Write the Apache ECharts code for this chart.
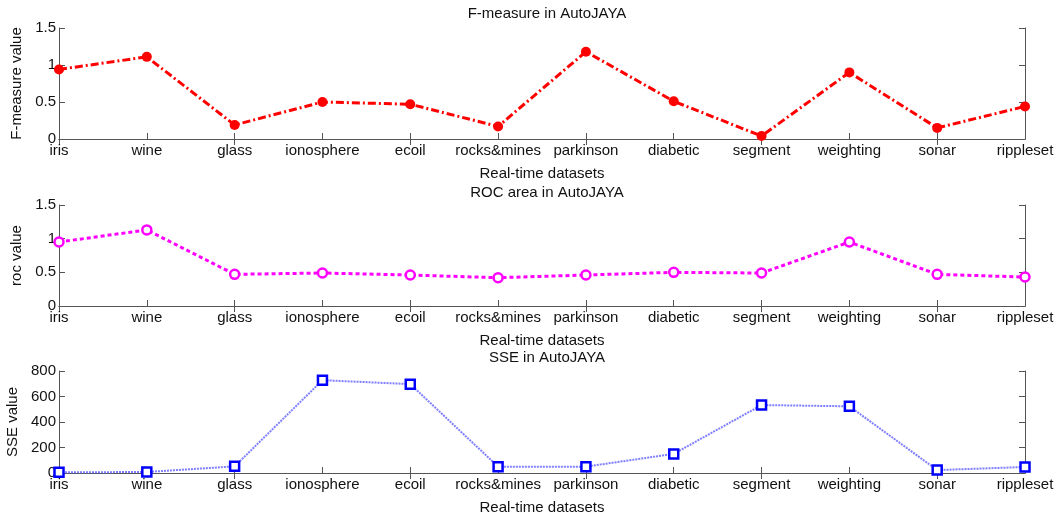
<!DOCTYPE html>
<html>
<head>
<meta charset="utf-8">
<script src="https://cdn.jsdelivr.net/npm/echarts@6/dist/echarts.min.js"></script>
<style>
  html, body { margin: 0; padding: 0; background: #fff; }
  #main { width: 1058px; height: 514px; }
</style>
</head>
<body>
<div id="main"></div>
<script>
// datasets and values
const datasets = ['iris', 'wine', 'glass', 'ionosphere', 'ecoil', 'rocks&mines',
    'parkinson', 'diabetic', 'segment', 'weighting', 'sonar', 'rippleset'];
const fMeasure = [0.94, 1.11, 0.19, 0.50, 0.47, 0.17, 1.18, 0.51, 0.04, 0.90, 0.15, 0.44];
const rocArea  = [0.95, 1.13, 0.47, 0.49, 0.46, 0.42, 0.46, 0.50, 0.49, 0.95, 0.47, 0.43];
const sseVals  = [5, 8, 52, 728, 697, 50, 50, 150, 533, 523, 23, 47];

const titles = ['F-measure in AutoJAYA', 'ROC area in AutoJAYA', 'SSE in AutoJAYA'];
const yNames = ['F-measure value', 'roc value', 'SSE value'];
const yMax = [1.5, 1.5, 800];
const yStep = [0.5, 0.5, 200];

const FONT = 'Liberation Sans, Arial, sans-serif';
const FS = 15;
const AX = '#555';
const grids = [
    {left: 59, right: 33, top: 28, height: 111, outerBoundsMode: 'none'},
    {left: 59, right: 33, top: 205, height: 101, outerBoundsMode: 'none'},
    {left: 59, right: 33, top: 371, height: 102, outerBoundsMode: 'none'}
];
const titleTops = [1, 180, 345];

let xAxes = [], yAxes = [], titleList = [];
for (let i = 0; i < 3; i++) {
    titleList.push({
        text: titles[i], left: 542, top: titleTops[i], textAlign: 'center',
        textStyle: {fontFamily: FONT, fontSize: FS, fontWeight: 'normal', color: '#111'}
    });
    // bottom axis with labels
    xAxes.push({
        gridIndex: i, type: 'category', data: datasets, boundaryGap: false,
        name: 'Real-time datasets', nameLocation: 'middle', nameGap: 27,
        nameTextStyle: {fontFamily: FONT, fontSize: FS, color: '#111'},
        axisLine: {lineStyle: {color: AX, width: 1}},
        axisTick: {inside: true, length: 6, lineStyle: {color: AX}},
        axisLabel: {fontFamily: FONT, fontSize: FS, color: '#111', margin: 4, interval: 0},
        splitLine: {show: false}
    });
    // top box edge
    xAxes.push({
        gridIndex: i, type: 'category', data: datasets, boundaryGap: false, position: 'top',
        axisLine: {lineStyle: {color: AX, width: 1}},
        axisTick: {inside: true, length: 6, lineStyle: {color: AX}},
        axisLabel: {show: false}, splitLine: {show: false}
    });
    yAxes.push({
        gridIndex: i, type: 'value', min: 0, max: yMax[i], interval: yStep[i],
        name: yNames[i], nameLocation: 'middle', nameGap: i === 2 ? 38 : 34, nameRotate: 90,
        nameTextStyle: {fontFamily: FONT, fontSize: FS, color: '#111'},
        axisLine: {show: true, lineStyle: {color: AX, width: 1}},
        axisTick: {show: true, inside: true, length: 6, lineStyle: {color: AX}},
        axisLabel: {fontFamily: FONT, fontSize: FS, color: '#111', margin: 3},
        splitLine: {show: false}
    });
    yAxes.push({
        gridIndex: i, type: 'value', min: 0, max: yMax[i], interval: yStep[i], position: 'right',
        axisLine: {show: true, lineStyle: {color: AX, width: 1}},
        axisTick: {show: true, inside: true, length: 6, lineStyle: {color: AX}},
        axisLabel: {show: false}, splitLine: {show: false}
    });
}

let option = {
    animation: false,
    backgroundColor: '#fff',
    title: titleList,
    grid: grids,
    xAxis: xAxes,
    yAxis: yAxes,
    series: [
        {
            type: 'line', xAxisIndex: 0, yAxisIndex: 0, data: fMeasure,
            symbol: 'circle', symbolSize: 10,
            itemStyle: {color: '#ff0000'},
            lineStyle: {color: '#ff0000', width: 3, type: [8, 3, 2, 3]}
        },
        {
            type: 'line', xAxisIndex: 2, yAxisIndex: 2, data: rocArea,
            symbol: 'circle', symbolSize: 9,
            itemStyle: {color: '#fff', borderColor: '#ff00ff', borderWidth: 2.5},
            lineStyle: {color: '#ff00ff', width: 3, type: [4, 3]}
        },
        {
            type: 'line', xAxisIndex: 4, yAxisIndex: 4, data: sseVals,
            symbol: 'rect', symbolSize: 9,
            itemStyle: {color: '#fff', borderColor: '#0000ff', borderWidth: 2.5},
            lineStyle: {color: '#7f7fff', width: 2, type: [2, 1]}
        }
    ]
};

let chart = echarts.init(document.getElementById('main'));
chart.setOption(option);
</script>
</body>
</html>
